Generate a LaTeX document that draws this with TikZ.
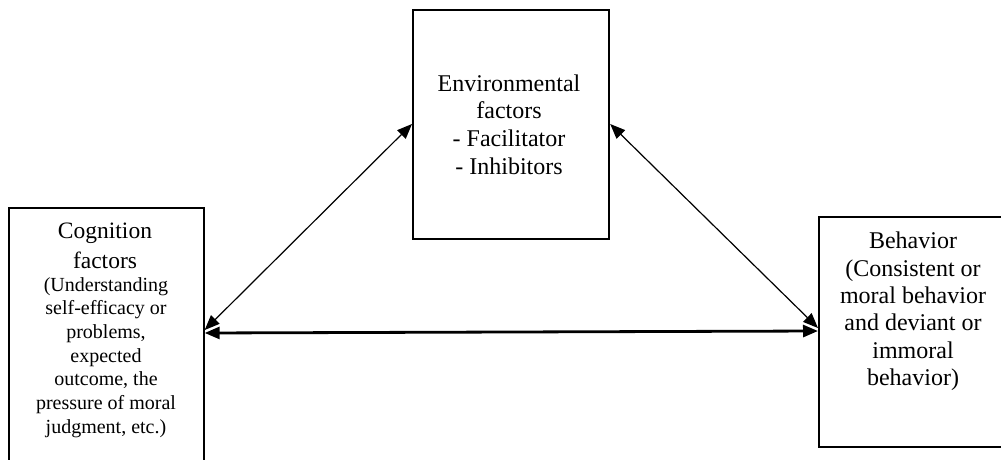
\documentclass[tikz,border=0pt]{standalone}
\usepackage{fontspec}
\setmainfont{Liberation Serif}
\usetikzlibrary{arrows.meta}
\tikzset{
  box/.style={draw, line width=2.2pt, rectangle, inner sep=0pt, anchor=north west},
  txt/.style={align=center, inner sep=0pt},
  thin arrow/.style={line width=1.2pt, {Triangle[length=15pt,width=12pt]}-{Triangle[length=15pt,width=12pt]}},
  thick arrow/.style={line width=2.8pt, {Triangle[length=15pt,width=12pt]}-{Triangle[length=15pt,width=12pt]}}
}
\begin{document}
\begin{tikzpicture}[x=1pt,y=1pt]
\useasboundingbox (0,0) rectangle (1001,459);
\clip (0,0) rectangle (1001,459);
\fill[white] (0,0) rectangle (1001,459);
% boxes
\node[box, minimum width=196pt, minimum height=229pt] (env) at (412,450) {};
\node[box, minimum width=195pt, minimum height=280pt] (cog) at (7.5,252) {};
\node[box, minimum width=210pt, minimum height=230pt] (beh) at (818,243) {};
% texts
\node[txt, font=\fontsize{24pt}{27.6pt}\selectfont] (envtxt) at (509,334.5)
  {Environmental\\factors\\- Facilitator\\- Inhibitors};
\node[txt, font=\fontsize{23.5pt}{29.5pt}\selectfont] (cogtitle) at (105,213)
  {Cognition\\factors};
\node[txt, font=\fontsize{20pt}{23.7pt}\selectfont] (cogtxt) at (106,101.5)
  {(Understanding\\self-efficacy or\\problems,\\expected\\outcome, the\\pressure of moral\\judgment, etc.)};
\node[txt, font=\fontsize{24pt}{27.4pt}\selectfont] (behtxt) at (913,147.5)
  {Behavior\\(Consistent or\\moral behavior\\and deviant or\\immoral\\behavior)};
% connectors
\draw[thin arrow] ([yshift=-123pt]cog.north east) -- ([yshift=-115pt]env.north west);
\draw[thin arrow] ([yshift=-115pt]env.north east) -- ([yshift=-112pt]beh.north west);
\draw[thick arrow] ([yshift=-126pt]cog.north east) -- ([yshift=-115pt]beh.north west);
\end{tikzpicture}
\end{document}
